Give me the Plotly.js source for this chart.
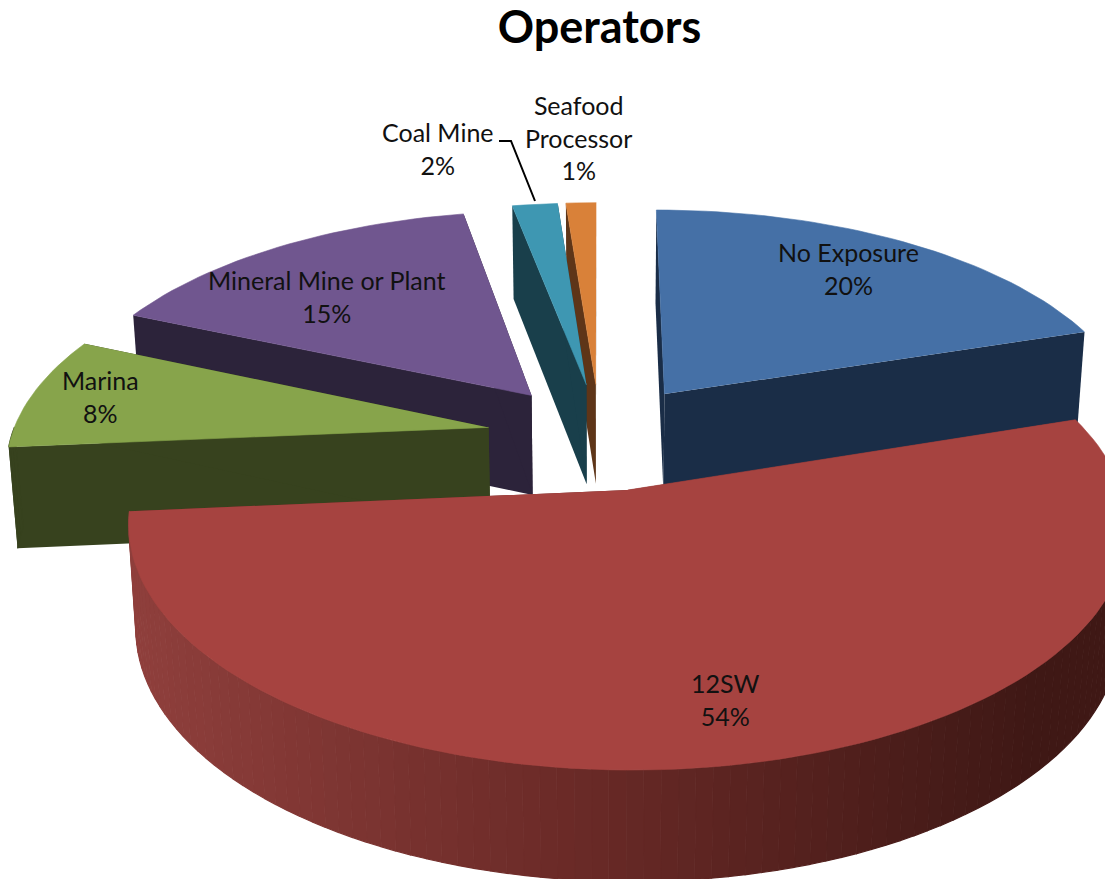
<!DOCTYPE html>
<html>
<head>
<meta charset="utf-8">
<script src="https://cdn.plot.ly/plotly-3.0.1.min.js"></script>
<style>html,body{margin:0;padding:0;background:#fff;overflow:hidden}#chart{width:1105px;height:879px}</style>
</head>
<body>
<div id="chart"></div>
<script>
// Data, clockwise from 12 o'clock (estimated unrounded shares behind the printed percentages)
const categories = ["No Exposure", "12SW", "Marina", "Mineral Mine or Plant", "Coal Mine", "Seafood Processor"];
const percents = [20, 53.6, 8, 15.4, 1.8, 1.2];

// Styles
const topColors = ["#4570A6", "#A64340", "#87A44B", "#70568F", "#3E97B2", "#D98139"];
const sideColors = ["#1A2D47", "#6E2B28", "#37421E", "#2C233A", "#193F4B", "#5E3518"];
const labelLines = [["No Exposure", "20%"], ["12SW", "54%"], ["Marina", "8%"], ["Mineral Mine or Plant", "15%"], ["Coal Mine", "2%"], ["Seafood", "Processor", "1%"]];
const labelX = [848, 725, 100, 327, 438, 578];
const labelY = [268, 699, 396, 296, 148, 137];
const nudgeX = [-1, 4, 1, 1, 1, 0];
const drawOrder = [5, 4, 3, 2, 0, 1];

// Projection of the tilted, exploded pie on the page
const cam = {cx: 600, cy: 436, sx: 477, sy: 222, persp: 0.145, explode: 0.24, depth: 101, taper: 0.015};
function project(X, Y, z) {
  const w = 1 + cam.persp * Y;
  return [cam.cx + cam.sx * X / w * (1 - cam.taper * z),
          cam.cy - cam.sy * Y / w + z * cam.depth / Math.sqrt(w)];
}
function poly(points, color, width, dx) {
  return {type: "scatter", mode: "lines", x: points.map(p => p[0] + dx), y: points.map(p => p[1]),
          fill: "toself", fillcolor: color, line: {color: color, width: width},
          hoverinfo: "skip", showlegend: false};
}
function mix(a, b, t) {
  const pa = [1, 3, 5].map(i => parseInt(a.substr(i, 2), 16));
  const pb = [1, 3, 5].map(i => parseInt(b.substr(i, 2), 16));
  return "rgb(" + pa.map((v, i) => Math.round(v + (pb[i] - v) * t)).join(",") + ")";
}

const total = percents.reduce((a, b) => a + b, 0);
const slices = [];
let acc = 0;
percents.forEach(v => {
  slices.push({a0: acc / total * 2 * Math.PI, a1: (acc + v) / total * 2 * Math.PI});
  acc += v;
});

const traces = [];
drawOrder.forEach(i => {
  const s = slices[i];
  const dx = nudgeX[i];
  const mid = (s.a0 + s.a1) / 2;
  const ox = cam.explode * Math.sin(mid), oy = cam.explode * Math.cos(mid);
  const pt = (a, z) => project(ox + Math.sin(a), oy + Math.cos(a), z);
  const apex = z => project(ox, oy, z);
  const steps = Math.max(3, Math.round((s.a1 - s.a0) / 0.03));
  const arc = [];
  for (let k = 0; k <= steps; k++) arc.push(s.a0 + (s.a1 - s.a0) * k / steps);
  // side walls
  traces.push(poly([apex(0), pt(s.a0, 0), pt(s.a0, 1), apex(1)], sideColors[i], 0, dx));
  traces.push(poly([apex(0), pt(s.a1, 0), pt(s.a1, 1), apex(1)], sideColors[i], 0, dx));
  // rim (only the part that faces the viewer), shaded across the page on the big slice
  for (let k = 0; k < steps; k++) {
    const a = arc[k], b = arc[k + 1];
    if (Math.cos((a + b) / 2) > 0) continue;
    let col = sideColors[i];
    if (i === 1) {
      const p = pt(a, 0)[0];
      const t = Math.min(1, Math.max(0, (p - 130) / 900));
      col = t < 0.5 ? mix("#8F3F3C", "#6A2A27", t * 2) : mix("#6A2A27", "#3F1815", (t - 0.5) * 2);
    }
    traces.push(poly([pt(a, 0), pt(b, 0), pt(b, 1), pt(a, 1)], col, 1.2, dx));
  }
  // top face
  traces.push(poly([apex(0)].concat(arc.map(a => pt(a, 0))), topColors[i], 0.6, dx));
});

// Leader line of the Coal Mine label
const leaderX = [499, 511, 535];
const leaderY = [141, 141, 201];
traces.push({type: "scatter", mode: "lines", x: leaderX, y: leaderY,
             line: {color: "#000", width: 2}, hoverinfo: "skip", showlegend: false});

const annotations = labelLines.map((lines, i) => ({
  x: labelX[i], y: labelY[i], xref: "x", yref: "y", showarrow: false,
  text: lines.join("<br>"), align: "center",
  font: {family: "Lato, sans-serif", size: 25, color: "#111"}
}));

const layout = {
  width: 1105, height: 879,
  margin: {l: 0, r: 0, t: 0, b: 0},
  paper_bgcolor: "#fff", plot_bgcolor: "#fff",
  showlegend: false, hovermode: false,
  title: {text: "<b>Operators</b>", x: 0.5425, xanchor: "center", y: 0.969, yanchor: "middle",
          font: {family: "Lato, sans-serif", size: 45, color: "#000"}},
  xaxis: {range: [0, 1105], visible: false, fixedrange: true},
  yaxis: {range: [879, 0], visible: false, fixedrange: true},
  annotations: annotations
};
Plotly.newPlot("chart", traces, layout, {displayModeBar: false, staticPlot: true});
</script>
</body>
</html>
